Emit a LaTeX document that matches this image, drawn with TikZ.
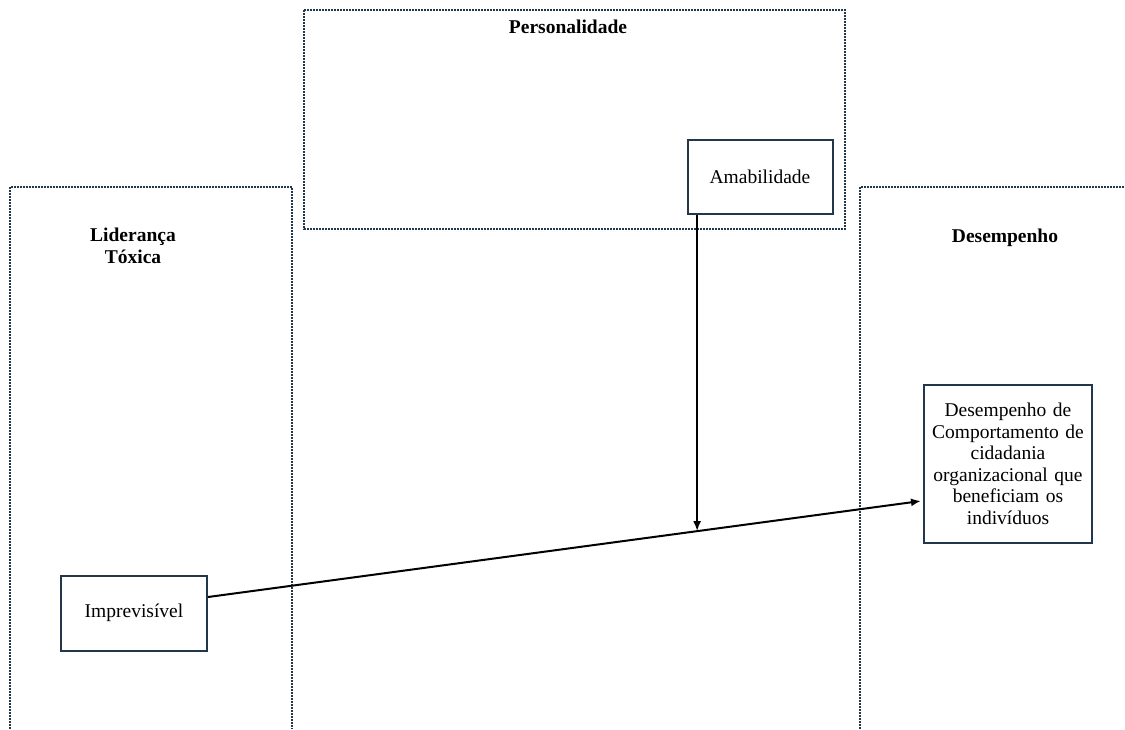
\documentclass[tikz,border=0pt]{standalone}
\usepackage{fontspec}
\setmainfont{Liberation Serif}
\usetikzlibrary{arrows.meta}

\definecolor{moldura}{HTML}{22384A}
\newcommand{\letra}{\fontsize{19.5}{21.5}\selectfont}

\tikzset{
	caixa/.style={draw=moldura, line width=2pt, fill=white, align=center, inner sep=3pt},
	grupo/.style={draw=moldura, line width=2pt, dash pattern=on 1.6pt off 1.4pt},
	titulo/.style={font=\letra\bfseries, align=center, inner sep=0pt},
	seta/.style={line width=2pt, -{Latex[length=10pt, width=8pt]}}
}

\begin{document}
\begin{tikzpicture}[x=1pt, y=-1pt, font=\letra]

\useasboundingbox (0,0) rectangle (1125,729);

% Grupos pontilhados
	\draw[grupo] (10,729) -- (10,187) -- (292,187) -- (292,729);
	\draw[grupo] (304,10) rectangle (845,229);
	\draw[grupo] (860,729) -- (860,187) -- (1125,187);

	\node[titulo] (tLid) at (133,246) {Liderança\\Tóxica};
	\node[titulo] (tPer) at (568,27) {Personalidade};
	\node[titulo] (tDes) at (1005,238) {Desempenho};

% Variaveis
\node[caixa, minimum width=146pt, minimum height=75pt] (imp) at (134,613) {Imprevisível};
\node[caixa, minimum width=145pt, minimum height=74pt] (amab) at (760,177) {Amabilidade};
\node[caixa, minimum width=168pt, minimum height=158pt, text width=162pt] (desc) at (1008,464)
	{Desempenho de\\Comportamento de\\cidadania\\organizacional que\\beneficiam os\\indivíduos};

% Setas
	\coordinate (ini) at ([yshift=16pt]imp.east);
	\coordinate (fim) at ([xshift=-2pt, yshift=-37pt]desc.west);
	\draw[seta] (ini) -- (fim) coordinate[pos=0.686] (mod);
	\draw[seta] (mod |- amab.south) -- (mod);

\end{tikzpicture}
\end{document}
